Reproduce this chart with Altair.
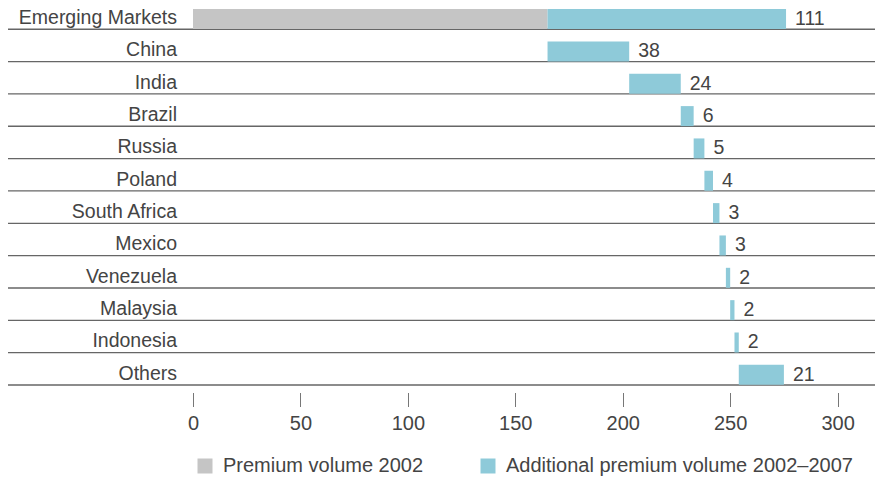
import altair as alt
import pandas as pd

countries = ["Emerging Markets", "China", "India", "Brazil", "Russia", "Poland",
             "South Africa", "Mexico", "Venezuela", "Malaysia", "Indonesia", "Others"]
additions = [111, 38, 24, 6, 5, 4, 3, 3, 2, 2, 2, 21]
premium_2002 = 165
series_names = ["Premium volume 2002", "Additional premium volume 2002–2007"]
series_colors = ["#c5c5c5", "#8ecad9"]
x_ticks = [0, 50, 100, 150, 200, 250, 300]

# build waterfall segments
rows = []
rows.append({"country": countries[0], "start": 0, "end": premium_2002, "series": series_names[0]})
rows.append({"country": countries[0], "start": premium_2002, "end": premium_2002 + additions[0], "series": series_names[1]})
cum = premium_2002
for c, a in zip(countries[1:], additions[1:]):
    rows.append({"country": c, "start": cum, "end": cum + a, "series": series_names[1]})
    cum += a
bars_df = pd.DataFrame(rows)

labels_df = pd.DataFrame({
    "country": countries,
    "value": additions,
    "end": [premium_2002 + additions[0]] + list(bars_df["end"][2:]),
})

W, H = 679, 385
FONT = "Liberation Sans"
TXT = "#444444"

yscale = alt.Scale(domain=countries, range=[-3.1, H], paddingInner=0, paddingOuter=0)
xscale = alt.Scale(domain=[0, 316], nice=False)

bars = alt.Chart(bars_df).mark_bar(height=20, yOffset=6).encode(
    x=alt.X("start:Q", scale=xscale,
            axis=alt.Axis(values=x_ticks, title=None, domain=False, grid=False,
                          tickSize=14, tickColor="#777777", tickWidth=1, offset=7.5,
                          labelFontSize=20, labelFont=FONT, labelColor=TXT,
                          labelPadding=7, labelFlush=False)),
    x2="end:Q",
    y=alt.Y("country:N", scale=yscale, axis=None),
    color=alt.Color("series:N",
                    scale=alt.Scale(domain=series_names, range=series_colors),
                    legend=alt.Legend(orient="none", legendX=2, legendY=456,
                                      direction="horizontal", title=None,
                                      symbolType="square", symbolSize=225,
                                      symbolStrokeWidth=0, labelFontSize=20,
                                      labelFont=FONT, labelColor=TXT, labelOffset=8,
                                      labelLimit=0, columnPadding=54, padding=0)),
)

rules = alt.Chart(pd.DataFrame({"country": countries})).mark_rule(
    color="#666666", strokeWidth=1.3
).encode(
    y=alt.Y("country:N", scale=yscale, bandPosition=1, axis=None),
    x=alt.value(-185),
    x2=alt.value(W + 3),
)

values = alt.Chart(labels_df).mark_text(
    align="left", baseline="middle", dx=9, yOffset=6, fontSize=19.5, font=FONT, color=TXT
).encode(
    x=alt.X("end:Q", scale=xscale),
    y=alt.Y("country:N", scale=yscale, axis=None),
    text="value:Q",
)

names = alt.Chart(pd.DataFrame({"country": countries})).mark_text(
    align="right", baseline="middle", yOffset=5, fontSize=19.5, font=FONT, color=TXT
).encode(
    x=alt.value(-16),
    y=alt.Y("country:N", scale=yscale, axis=None),
    text="country:N",
)

chart = alt.layer(rules, bars, values, names).properties(
    width=W, height=H,
    background="white",
    autosize=alt.AutoSizeParams(type="none"),
    padding={"left": 193, "top": 0, "right": 3, "bottom": 94},
).configure_view(stroke=None)

chart.save("out.html", embed_options={"renderer": "svg", "actions": False})
